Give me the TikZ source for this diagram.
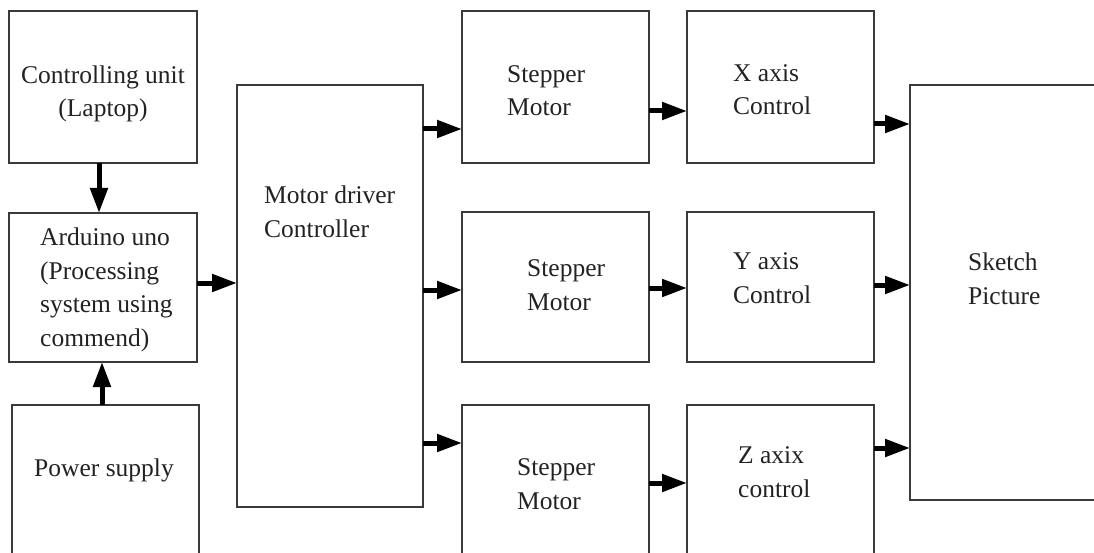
\documentclass[tikz,border=0pt]{standalone}
\usepackage{fontspec}
\setmainfont{Liberation Serif}
\usetikzlibrary{arrows.meta,fit}
\definecolor{boxc}{HTML}{3A3A3A}
\definecolor{txtc}{HTML}{222222}
\begin{document}
\begin{tikzpicture}[x=1pt,y=-1pt,
  box/.style={draw=boxc, line width=2.2pt, inner sep=0pt, outer sep=0pt},
  lbl/.style={font=\fontsize{25.5}{33.5}\selectfont, text=txtc, inner sep=0pt, align=left, anchor=base west},
  arr/.style={draw=black, line width=5pt, -{Triangle[length=25pt,width=17pt]}}]
\useasboundingbox (0,0) rectangle (1094,553);
\fill[white] (0,0) rectangle (1094,553);
\clip (0,0) rectangle (1094,553);
% boxes
\node[box, fit={(9,11) (197,163)}] (cu) {};
\node[box, fit={(9,213) (197,362)}] (ard) {};
\node[box, fit={(12,405) (199,600)}] (pow) {};
\node[box, fit={(237,85) (423,507)}] (md) {};
\node[box, fit={(462,11) (649,163)}] (sm1) {};
\node[box, fit={(462,212) (649,362)}] (sm2) {};
\node[box, fit={(462,405) (649,600)}] (sm3) {};
\node[box, fit={(687,11) (874,163)}] (xa) {};
\node[box, fit={(687,212) (874,362)}] (ya) {};
\node[box, fit={(687,405) (874,600)}] (za) {};
\node[box, fit={(910,85) (1130,500)}] (sk) {};
% texts (anchor = baseline of the last line)
\node[lbl, align=center, anchor=base] (tcu) at (103,117) {Controlling unit\\(Laptop)};
\node[lbl] (tard) at (40,346) {Arduino uno\\(Processing\\system using\\commend)};
\node[lbl, anchor=base] (tpow) at (104,476) {Power supply};
\node[lbl] (tmd) at (264,237) {Motor driver\\Controller};
\node[lbl] (tsm1) at (507,116) {Stepper\\Motor};
\node[lbl] (tsm2) at (527,310) {Stepper\\Motor};
\node[lbl] (tsm3) at (517,509) {Stepper\\Motor};
\node[lbl] (txa) at (733,115) {X axis\\Control};
\node[lbl] (tya) at (733,303) {Y axis\\Control};
\node[lbl] (tza) at (738,497) {Z axix\\control};
\node[lbl] (tsk) at (968,304) {Sketch\\Picture};
% connector start points
\coordinate (c1) at (99,163);
\coordinate (p1) at (102,405);
\coordinate (a1) at (197,283);
\coordinate (m1) at (423,129);
\coordinate (m2) at (423,290);
\coordinate (m3) at (423,443);
\coordinate (s1) at (649,111);
\coordinate (s2) at (649,288);
\coordinate (s3) at (649,483);
\coordinate (x1) at (874,124);
\coordinate (y1) at (874,285);
\coordinate (z1) at (874,448);
% connectors
\draw[arr] (c1) -- (c1 |- ard.north);
\draw[arr] (p1) -- (p1 |- ard.south);
\draw[arr] (a1) -- (a1 -| md.west);
\draw[arr] (m1) -- (m1 -| sm1.west);
\draw[arr] (m2) -- (m2 -| sm2.west);
\draw[arr] (m3) -- (m3 -| sm3.west);
\draw[arr] (s1) -- (s1 -| xa.west);
\draw[arr] (s2) -- (s2 -| ya.west);
\draw[arr] (s3) -- (s3 -| za.west);
\draw[arr] (x1) -- (x1 -| sk.west);
\draw[arr] (y1) -- (y1 -| sk.west);
\draw[arr] (z1) -- (z1 -| sk.west);
\end{tikzpicture}
\end{document}
